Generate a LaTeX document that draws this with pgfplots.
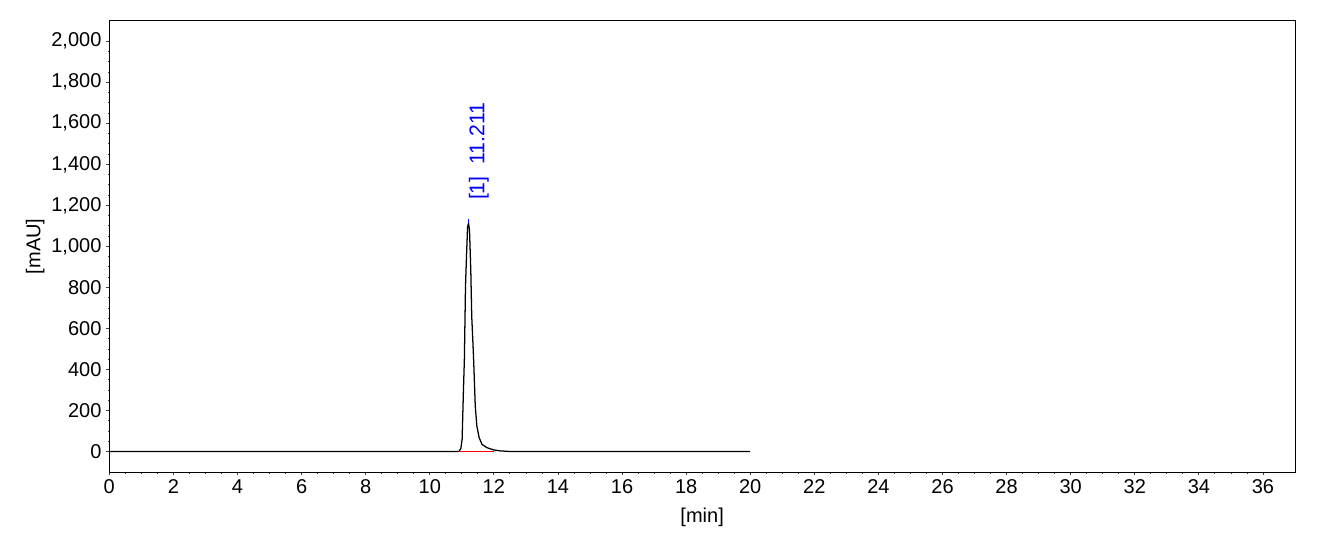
\documentclass[border=0pt]{standalone}
\usepackage{fontspec}
\setmainfont{Liberation Sans}
\usepackage{pgfplots}
\pgfplotsset{compat=1.18}
\begin{document}
\begin{tikzpicture}
\begin{axis}[
  name=main,
  scale only axis,
  width=889.3pt, height=338.5pt,
  xmin=0, xmax=37, ymin=-100, ymax=2100,
  xtick={0,2,...,36}, ytick={0,200,...,2000},
  minor x tick num=3, minor y tick num=3,
  tick align=outside,
  major tick length=2.4pt, minor tick length=1.2pt,
  every tick/.style={black!75, line width=0.6pt},
  axis line style={line width=0.75pt},
  xtick pos=bottom, ytick pos=left,
  /pgf/number format/assume math mode=true,
  /pgf/number format/1000 sep={,},
  scaled y ticks=false,
  ticklabel style={font=\fontsize{15}{18}\selectfont},
  xlabel={[min]}, ylabel={[mAU]},
  label style={font=\fontsize{15}{18}\selectfont},
  xlabel style={at={(axis description cs:0.5,-0.0997)}, anchor=center},
  ylabel style={at={(axis description cs:-0.0624,0.5)}, anchor=center},
  clip=false,
]
\addplot[black, line width=0.95pt] coordinates {
(0,0) (10.88,0) (10.92,2) (10.97,15) (11.01,60) (11.05,294) (11.08,448)
(11.115,804) (11.146,950) (11.18,1095) (11.21,1112) (11.24,1079) (11.28,885)
(11.31,658) (11.365,464) (11.42,221) (11.47,124) (11.54,68) (11.63,35)
(11.78,19) (11.99,8) (12.2,3) (12.51,0) (20,0)
};
\addplot[red, line width=0.95pt] coordinates {(10.9,0) (11.99,0)};
\addplot[blue, line width=0.9pt] coordinates {(11.21,1112) (11.21,1135)};
\node[rotate=90, anchor=west, inner sep=0pt, text=blue, font=\fontsize{16}{19}\selectfont] at (axis cs:11.53,1225) {[1]\ \ 11.211};
\end{axis}
\path[use as bounding box] ([shift={(-81.98pt,-49.5pt)}]main.south west) rectangle ([shift={(24pt,15.53pt)}]main.north east);
\end{tikzpicture}
\end{document}
